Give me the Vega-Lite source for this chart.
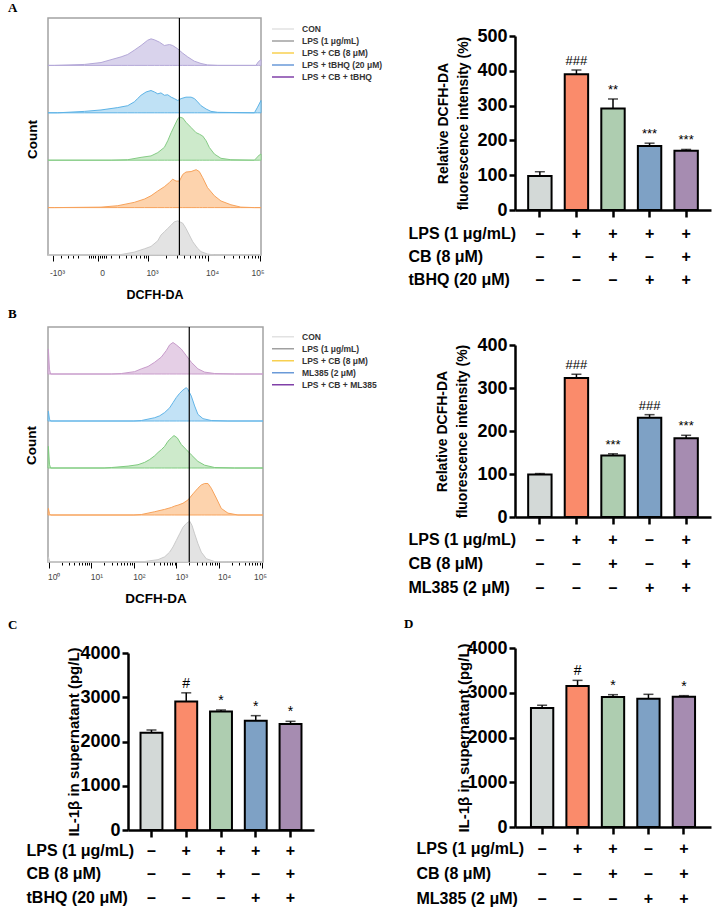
{
  "$schema": "https://vega.github.io/schema/vega-lite/v6.json",
  "background": "white",
  "padding": {"left": 7, "top": 1, "right": 2, "bottom": 2},
  "autosize": {"type": "pad"},
  "columns": 2,
  "bounds": "flush",
  "align": "all",
  "spacing": {"row": 72, "column": 201},
  "resolve": {"scale": {"color": "independent", "fill": "independent", "stroke": "independent"}, "legend": {"color": "independent", "fill": "independent", "stroke": "independent"}},
  "datasets": {
    "histA": [
      {"group":"CON","channel":-5,"count":0},{"group":"CON","channel":308,"count":0},{"group":"CON","channel":340,"count":1},{"group":"CON","channel":402,"count":6},{"group":"CON","channel":450,"count":13},{"group":"CON","channel":481,"count":18},{"group":"CON","channel":513,"count":30},{"group":"CON","channel":528,"count":42},{"group":"CON","channel":544,"count":49},{"group":"CON","channel":560,"count":56},{"group":"CON","channel":576,"count":63},{"group":"CON","channel":591,"count":70},{"group":"CON","channel":607,"count":72},{"group":"CON","channel":631,"count":67},{"group":"CON","channel":646,"count":56},{"group":"CON","channel":662,"count":42},{"group":"CON","channel":678,"count":28},{"group":"CON","channel":701,"count":14},{"group":"CON","channel":717,"count":7},{"group":"CON","channel":748,"count":2},{"group":"CON","channel":780,"count":0},{"group":"CON","channel":1000,"count":0},
      {"group":"LPS","channel":-5,"count":0},{"group":"LPS","channel":25,"count":0},{"group":"LPS","channel":245,"count":1},{"group":"LPS","channel":324,"count":4},{"group":"LPS","channel":402,"count":11},{"group":"LPS","channel":450,"count":18},{"group":"LPS","channel":481,"count":25},{"group":"LPS","channel":513,"count":35},{"group":"LPS","channel":544,"count":44},{"group":"LPS","channel":568,"count":53},{"group":"LPS","channel":583,"count":60},{"group":"LPS","channel":599,"count":56},{"group":"LPS","channel":615,"count":56},{"group":"LPS","channel":631,"count":70},{"group":"LPS","channel":646,"count":75},{"group":"LPS","channel":670,"count":76},{"group":"LPS","channel":694,"count":80},{"group":"LPS","channel":709,"count":76},{"group":"LPS","channel":725,"count":63},{"group":"LPS","channel":748,"count":42},{"group":"LPS","channel":780,"count":25},{"group":"LPS","channel":811,"count":14},{"group":"LPS","channel":858,"count":6},{"group":"LPS","channel":905,"count":1},{"group":"LPS","channel":969,"count":0},{"group":"LPS","channel":1000,"count":0},
      {"group":"LPS + CB","channel":-5,"count":0},{"group":"LPS + CB","channel":293,"count":0},{"group":"LPS + CB","channel":371,"count":1},{"group":"LPS + CB","channel":434,"count":6},{"group":"LPS + CB","channel":481,"count":9},{"group":"LPS + CB","channel":513,"count":16},{"group":"LPS + CB","channel":544,"count":27},{"group":"LPS + CB","channel":560,"count":41},{"group":"LPS + CB","channel":576,"count":58},{"group":"LPS + CB","channel":591,"count":72},{"group":"LPS + CB","channel":607,"count":87},{"group":"LPS + CB","channel":615,"count":91},{"group":"LPS + CB","channel":631,"count":89},{"group":"LPS + CB","channel":646,"count":80},{"group":"LPS + CB","channel":670,"count":69},{"group":"LPS + CB","channel":694,"count":58},{"group":"LPS + CB","channel":709,"count":55},{"group":"LPS + CB","channel":725,"count":51},{"group":"LPS + CB","channel":741,"count":41},{"group":"LPS + CB","channel":756,"count":27},{"group":"LPS + CB","channel":780,"count":13},{"group":"LPS + CB","channel":811,"count":4},{"group":"LPS + CB","channel":858,"count":1},{"group":"LPS + CB","channel":969,"count":0},{"group":"LPS + CB","channel":992,"count":11},{"group":"LPS + CB","channel":1000,"count":13},
      {"group":"LPS + tBHQ","channel":-5,"count":0},{"group":"LPS + tBHQ","channel":41,"count":0},{"group":"LPS + tBHQ","channel":167,"count":3},{"group":"LPS + tBHQ","channel":245,"count":6},{"group":"LPS + tBHQ","channel":324,"count":11},{"group":"LPS + tBHQ","channel":371,"count":15},{"group":"LPS + tBHQ","channel":402,"count":23},{"group":"LPS + tBHQ","channel":418,"count":30},{"group":"LPS + tBHQ","channel":434,"count":37},{"group":"LPS + tBHQ","channel":458,"count":44},{"group":"LPS + tBHQ","channel":481,"count":47},{"group":"LPS + tBHQ","channel":497,"count":44},{"group":"LPS + tBHQ","channel":513,"count":40},{"group":"LPS + tBHQ","channel":528,"count":42},{"group":"LPS + tBHQ","channel":544,"count":37},{"group":"LPS + tBHQ","channel":560,"count":38},{"group":"LPS + tBHQ","channel":576,"count":33},{"group":"LPS + tBHQ","channel":591,"count":30},{"group":"LPS + tBHQ","channel":607,"count":26},{"group":"LPS + tBHQ","channel":623,"count":30},{"group":"LPS + tBHQ","channel":646,"count":33},{"group":"LPS + tBHQ","channel":670,"count":33},{"group":"LPS + tBHQ","channel":686,"count":30},{"group":"LPS + tBHQ","channel":701,"count":23},{"group":"LPS + tBHQ","channel":717,"count":15},{"group":"LPS + tBHQ","channel":741,"count":8},{"group":"LPS + tBHQ","channel":764,"count":3},{"group":"LPS + tBHQ","channel":796,"count":1},{"group":"LPS + tBHQ","channel":969,"count":0},{"group":"LPS + tBHQ","channel":984,"count":12},{"group":"LPS + tBHQ","channel":1000,"count":26},
      {"group":"LPS + CB + tBHQ","channel":-5,"count":0},{"group":"LPS + CB + tBHQ","channel":25,"count":0},{"group":"LPS + CB + tBHQ","channel":167,"count":2},{"group":"LPS + CB + tBHQ","channel":245,"count":6},{"group":"LPS + CB + tBHQ","channel":292,"count":12},{"group":"LPS + CB + tBHQ","channel":340,"count":18},{"group":"LPS + CB + tBHQ","channel":371,"count":23},{"group":"LPS + CB + tBHQ","channel":402,"count":32},{"group":"LPS + CB + tBHQ","channel":434,"count":42},{"group":"LPS + CB + tBHQ","channel":465,"count":53},{"group":"LPS + CB + tBHQ","channel":481,"count":56},{"group":"LPS + CB + tBHQ","channel":497,"count":54},{"group":"LPS + CB + tBHQ","channel":521,"count":49},{"group":"LPS + CB + tBHQ","channel":544,"count":42},{"group":"LPS + CB + tBHQ","channel":568,"count":44},{"group":"LPS + CB + tBHQ","channel":583,"count":42},{"group":"LPS + CB + tBHQ","channel":607,"count":35},{"group":"LPS + CB + tBHQ","channel":630,"count":26},{"group":"LPS + CB + tBHQ","channel":654,"count":18},{"group":"LPS + CB + tBHQ","channel":685,"count":9},{"group":"LPS + CB + tBHQ","channel":717,"count":4},{"group":"LPS + CB + tBHQ","channel":748,"count":1},{"group":"LPS + CB + tBHQ","channel":796,"count":0},{"group":"LPS + CB + tBHQ","channel":976,"count":0},{"group":"LPS + CB + tBHQ","channel":988,"count":8},{"group":"LPS + CB + tBHQ","channel":1000,"count":12}
    ],
    "histB": [
      {"group":"CON","intensity":0.96,"count":0},{"group":"CON","intensity":0.98,"count":11},{"group":"CON","intensity":1.04,"count":2},{"group":"CON","intensity":1.1,"count":0},{"group":"CON","intensity":120,"count":0},{"group":"CON","intensity":179,"count":1},{"group":"CON","intensity":369,"count":5},{"group":"CON","intensity":528,"count":11},{"group":"CON","intensity":692,"count":21},{"group":"CON","intensity":829,"count":32},{"group":"CON","intensity":993,"count":46},{"group":"CON","intensity":1189,"count":60},{"group":"CON","intensity":1423,"count":74},{"group":"CON","intensity":1706,"count":82},{"group":"CON","intensity":2042,"count":87},{"group":"CON","intensity":2316,"count":78},{"group":"CON","intensity":2675,"count":60},{"group":"CON","intensity":3200,"count":39},{"group":"CON","intensity":3837,"count":21},{"group":"CON","intensity":5020,"count":7},{"group":"CON","intensity":7890,"count":1},{"group":"CON","intensity":16200,"count":0},{"group":"CON","intensity":108000,"count":0},
      {"group":"LPS","intensity":0.96,"count":0},{"group":"LPS","intensity":0.98,"count":14},{"group":"LPS","intensity":1.04,"count":3},{"group":"LPS","intensity":1.1,"count":0},{"group":"LPS","intensity":100,"count":0},{"group":"LPS","intensity":150,"count":1},{"group":"LPS","intensity":308,"count":7},{"group":"LPS","intensity":528,"count":12},{"group":"LPS","intensity":758,"count":16},{"group":"LPS","intensity":907,"count":19},{"group":"LPS","intensity":1087,"count":21},{"group":"LPS","intensity":1423,"count":25},{"group":"LPS","intensity":1866,"count":32},{"group":"LPS","intensity":2445,"count":45},{"group":"LPS","intensity":3200,"count":57},{"group":"LPS","intensity":3837,"count":64},{"group":"LPS","intensity":4590,"count":67},{"group":"LPS","intensity":5500,"count":67},{"group":"LPS","intensity":6580,"count":57},{"group":"LPS","intensity":8630,"count":36},{"group":"LPS","intensity":11300,"count":14},{"group":"LPS","intensity":16200,"count":4},{"group":"LPS","intensity":27800,"count":0},{"group":"LPS","intensity":108000,"count":0},
      {"group":"LPS + CB","intensity":0.96,"count":0},{"group":"LPS + CB","intensity":0.98,"count":46},{"group":"LPS + CB","intensity":1.04,"count":8},{"group":"LPS + CB","intensity":1.1,"count":0},{"group":"LPS + CB","intensity":20,"count":0},{"group":"LPS + CB","intensity":30,"count":1},{"group":"LPS + CB","intensity":73,"count":4},{"group":"LPS + CB","intensity":125,"count":7},{"group":"LPS + CB","intensity":179,"count":12},{"group":"LPS + CB","intensity":235,"count":18},{"group":"LPS + CB","intensity":308,"count":26},{"group":"LPS + CB","intensity":369,"count":33},{"group":"LPS + CB","intensity":441,"count":39},{"group":"LPS + CB","intensity":528,"count":46},{"group":"LPS + CB","intensity":633,"count":57},{"group":"LPS + CB","intensity":758,"count":64},{"group":"LPS + CB","intensity":876,"count":69},{"group":"LPS + CB","intensity":1048,"count":64},{"group":"LPS + CB","intensity":1301,"count":50},{"group":"LPS + CB","intensity":1706,"count":39},{"group":"LPS + CB","intensity":2234,"count":28},{"group":"LPS + CB","intensity":3200,"count":14},{"group":"LPS + CB","intensity":4590,"count":6},{"group":"LPS + CB","intensity":7890,"count":1},{"group":"LPS + CB","intensity":23200,"count":0},{"group":"LPS + CB","intensity":108000,"count":0},
      {"group":"ML385","intensity":0.96,"count":0},{"group":"ML385","intensity":0.98,"count":21},{"group":"ML385","intensity":1.04,"count":4},{"group":"ML385","intensity":1.1,"count":0},{"group":"ML385","intensity":100,"count":0},{"group":"ML385","intensity":150,"count":1},{"group":"ML385","intensity":308,"count":7},{"group":"ML385","intensity":403,"count":11},{"group":"ML385","intensity":528,"count":18},{"group":"ML385","intensity":692,"count":28},{"group":"ML385","intensity":829,"count":39},{"group":"ML385","intensity":993,"count":50},{"group":"ML385","intensity":1189,"count":59},{"group":"ML385","intensity":1423,"count":66},{"group":"ML385","intensity":1706,"count":71},{"group":"ML385","intensity":1866,"count":67},{"group":"ML385","intensity":2234,"count":53},{"group":"ML385","intensity":2675,"count":32},{"group":"ML385","intensity":3200,"count":14},{"group":"ML385","intensity":4200,"count":5},{"group":"ML385","intensity":6580,"count":1},{"group":"ML385","intensity":16200,"count":0},{"group":"ML385","intensity":108000,"count":0},
      {"group":"LPS + CB + ML385","intensity":0.96,"count":0},{"group":"LPS + CB + ML385","intensity":0.98,"count":53},{"group":"LPS + CB + ML385","intensity":1.04,"count":10},{"group":"LPS + CB + ML385","intensity":1.1,"count":0},{"group":"LPS + CB + ML385","intensity":30,"count":0},{"group":"LPS + CB + ML385","intensity":51,"count":1},{"group":"LPS + CB + ML385","intensity":104,"count":5},{"group":"LPS + CB + ML385","intensity":150,"count":11},{"group":"LPS + CB + ML385","intensity":215,"count":16},{"group":"LPS + CB + ML385","intensity":308,"count":25},{"group":"LPS + CB + ML385","intensity":441,"count":36},{"group":"LPS + CB + ML385","intensity":578,"count":50},{"group":"LPS + CB + ML385","intensity":692,"count":62},{"group":"LPS + CB + ML385","intensity":829,"count":67},{"group":"LPS + CB + ML385","intensity":993,"count":62},{"group":"LPS + CB + ML385","intensity":1301,"count":53},{"group":"LPS + CB + ML385","intensity":1706,"count":39},{"group":"LPS + CB + ML385","intensity":2234,"count":25},{"group":"LPS + CB + ML385","intensity":3200,"count":11},{"group":"LPS + CB + ML385","intensity":4590,"count":4},{"group":"LPS + CB + ML385","intensity":7890,"count":1},{"group":"LPS + CB + ML385","intensity":23200,"count":0},{"group":"LPS + CB + ML385","intensity":108000,"count":0}
    ],
    "barA": [
      {"group":"CON","value":98,"upper":110,"sig":""},
      {"group":"LPS","value":390,"upper":402,"sig":"###"},
      {"group":"LPS + CB","value":292,"upper":319,"sig":"**"},
      {"group":"LPS + tBHQ","value":184,"upper":192,"sig":"***"},
      {"group":"LPS + CB + tBHQ","value":170,"upper":174,"sig":"***"}
    ],
    "barB": [
      {"group":"CON","value":99,"upper":101,"sig":""},
      {"group":"LPS","value":323,"upper":332,"sig":"###"},
      {"group":"LPS + CB","value":143,"upper":147,"sig":"***"},
      {"group":"ML385","value":231,"upper":238,"sig":"###"},
      {"group":"LPS + CB + ML385","value":183,"upper":190,"sig":"***"}
    ],
    "barC": [
      {"group":"CON","value":2200,"upper":2260,"sig":""},
      {"group":"LPS","value":2905,"upper":3100,"sig":"#"},
      {"group":"LPS + CB","value":2680,"upper":2712,"sig":"*"},
      {"group":"LPS + tBHQ","value":2470,"upper":2584,"sig":"*"},
      {"group":"LPS + CB + tBHQ","value":2395,"upper":2456,"sig":"*"}
    ],
    "barD": [
      {"group":"CON","value":2660,"upper":2720,"sig":""},
      {"group":"LPS","value":3150,"upper":3277,"sig":"#"},
      {"group":"LPS + CB","value":2905,"upper":2957,"sig":"*"},
      {"group":"ML385","value":2868,"upper":2965,"sig":""},
      {"group":"LPS + CB + ML385","value":2912,"upper":2935,"sig":"*"}
    ]
  },
  "concat": [
    {
      "width": 213, "height": 237,
      "view": {"stroke": "#a3a3a3", "strokeWidth": 1.5},
      "title": {"text": "A", "dx": -40, "offset": 2},
      "data": {"name": "histA"},
      "resolve": {"scale": {"y": "independent"}, "axis": {"y": "independent", "x": "independent"}},
      "layer": [
        {
          "transform": [{"filter": "datum.group == 'CON'"}],
          "mark": {"type": "area", "fill": "#e3e3e3", "stroke": "#cacaca", "strokeWidth": 1},
          "encoding": {
            "x": {"field": "channel", "type": "quantitative", "scale": {"domain": [-5, 1000], "nice": false, "zero": false},
              "axis": {"title": "DCFH-DA", "titleFontSize": 12.5, "titleFontWeight": "bold", "titleY": 33, "titleBaseline": "top", "domain": false,
                "values": [19,57,90,113,137,189,198,208,217,231,241,250,259,269,292,330,363,387,410,429,448,458,467,552,602,637,665,687,706,723,737,750,824,867,898,921,941,957,972,984,995],
                "labelExpr": "datum.value == 19 ? '-10³' : datum.value == 231 ? '0' : datum.value == 467 ? '10³' : datum.value == 750 ? '10⁴' : datum.value == 995 ? '10⁵' : ''",
                "tickColor": "black", "tickWidth": 1,
                "tickSize": {"condition": {"test": "indexof([19,231,467,750,995], datum.value) >= 0", "value": 6}, "value": 3},
                "labelAlign": {"condition": {"test": "datum.value == 995", "value": "right"}, "value": "center"},
                "labelFontSize": 8.5, "labelColor": "#444", "labelPadding": 7, "labelOffset": 4, "labelOverlap": false, "labelFlush": false, "labelBound": false}},
            "y": {"field": "count", "type": "quantitative", "stack": null, "scale": {"domain": [0, 500], "nice": false},
              "axis": {"title": "Count", "labels": false, "ticks": false, "domain": false, "titleFontSize": 13.5, "titleFontWeight": "bold", "titleX": -16, "titleY": 121, "titleBaseline": "middle", "titleAlign": "center", "titleAngle": -90}}
          }
        },
        {
          "transform": [{"filter": "datum.group == 'LPS'"}],
          "mark": {"type": "area", "fill": "#fdd3ad", "stroke": "#f7a35c", "strokeWidth": 1},
          "encoding": {
            "x": {"field": "channel", "type": "quantitative", "axis": null},
            "y": {"field": "count", "type": "quantitative", "stack": null, "scale": {"domain": [-100, 400], "nice": false, "zero": false}, "axis": null}
          }
        },
        {
          "transform": [{"filter": "datum.group == 'LPS + CB'"}],
          "mark": {"type": "area", "fill": "#cdeacb", "stroke": "#86cc86", "strokeWidth": 1},
          "encoding": {
            "x": {"field": "channel", "type": "quantitative", "axis": null},
            "y": {"field": "count", "type": "quantitative", "stack": null, "scale": {"domain": [-200, 300], "nice": false, "zero": false}, "axis": null}
          }
        },
        {
          "transform": [{"filter": "datum.group == 'LPS + tBHQ'"}],
          "mark": {"type": "area", "fill": "#bfe1f5", "stroke": "#5db3e6", "strokeWidth": 1},
          "encoding": {
            "x": {"field": "channel", "type": "quantitative", "axis": null},
            "y": {"field": "count", "type": "quantitative", "stack": null, "scale": {"domain": [-300, 200], "nice": false, "zero": false}, "axis": null}
          }
        },
        {
          "transform": [{"filter": "datum.group == 'LPS + CB + tBHQ'"}],
          "mark": {"type": "area", "fill": "#d9d3ec", "stroke": "#b4a8d8", "strokeWidth": 1},
          "encoding": {
            "x": {"field": "channel", "type": "quantitative", "axis": null},
            "y": {"field": "count", "type": "quantitative", "stack": null, "scale": {"domain": [-400, 100], "nice": false, "zero": false}, "axis": null}
          }
        },
        {
          "mark": {"type": "line", "opacity": 0},
          "encoding": {
            "x": {"field": "channel", "type": "quantitative", "axis": null},
            "y": {"field": "count", "type": "quantitative", "axis": null},
            "color": {"field": "group", "type": "nominal",
              "scale": {"domain": ["CON", "LPS", "LPS + CB", "LPS + tBHQ", "LPS + CB + tBHQ"], "range": ["#e2e2e2", "#a0a0a0", "#f8d050", "#6a9ad8", "#8040a8"]},
              "legend": {"orient": "none", "legendX": 223, "legendY": 5, "title": null, "symbolType": "stroke", "symbolSize": 484, "symbolStrokeWidth": 1.5, "symbolOpacity": 1, "labelFontSize": 8.5, "labelFontWeight": "bold", "labelColor": "#333", "labelOffset": 7, "clipHeight": 12, "rowPadding": 0, "padding": 0,
                "labelExpr": "datum.value == 'LPS' ? 'LPS (1 μg/mL)' : datum.value == 'LPS + CB' ? 'LPS + CB (8 μM)' : datum.value == 'LPS + tBHQ' ? 'LPS + tBHQ (20 μM)' : datum.value"}}
          }
        },
        {
          "data": {"values": [{}]},
          "mark": {"type": "rule", "color": "black", "strokeWidth": 1.2},
          "encoding": {"x": {"datum": 615, "type": "quantitative", "axis": null}}
        }
      ]
    },
    {
      "width": 196, "height": 192,
      "data": {"name": "barA"},
      "resolve": {"axis": {"y": "independent"}},
      "encoding": {
        "x": {"field": "group", "type": "nominal", "sort": null, "scale": {"paddingInner": 0.36, "paddingOuter": 0.36},
          "axis": {"title": ["LPS (1 μg/mL)", "CB (8 μM)", "tBHQ (20 μM)"], "titleAlign": "left", "titleX": -107, "titleY": 15, "titleBaseline": "top", "titleFontSize": 16, "titleFontWeight": "bold", "titleLineHeight": 23.3, "titleAngle": 0,
            "labelExpr": "datum.value == 'CON' ? ['–','–','–'] : datum.value == 'LPS' ? ['+','–','–'] : datum.value == 'LPS + CB' ? ['+','+','–'] : datum.value == 'LPS + tBHQ' ? ['+','–','+'] : ['+','+','+']",
            "labelAngle": 0, "labelFontSize": 16, "labelFontWeight": "bold", "labelLineHeight": 23.3, "labelPadding": 8, "labelBaseline": "top", "labelOverlap": false, "labelBound": false,
            "tickSize": 7, "tickWidth": 2.5, "tickColor": "black", "domainColor": "black", "domainWidth": 2.5}}
      },
      "layer": [
        {
          "mark": {"type": "bar", "stroke": "black", "strokeWidth": 2},
          "encoding": {
            "y": {"field": "value", "type": "quantitative", "scale": {"domain": [0, 500], "range": [192, 18], "nice": false},
              "axis": {"title": ["Relative DCFH-DA", "fluorescence intensity (%)"], "titleFontSize": 14, "titleFontWeight": "bold", "titleLineHeight": 20, "titleX": -72, "titleY": 105, "titleBaseline": "middle", "titleAlign": "center", "titleAngle": -90,
                "values": [0, 100, 200, 300, 400, 500], "format": "d", "labelOverlap": false, "labelFontSize": 18, "labelFontWeight": "bold", "labelPadding": 2, "tickSize": 6, "tickWidth": 2.5, "tickColor": "black", "domainColor": "black", "domainWidth": 2.5}},
            "fill": {"field": "group", "type": "nominal", "legend": null, "scale": {"domain": ["CON", "LPS", "LPS + CB", "LPS + tBHQ", "LPS + CB + tBHQ"], "range": ["#d3d9d7", "#fa8b6b", "#aecdb0", "#7ea1c5", "#a68cb1"]}}
          }
        },
        {"mark": {"type": "rule", "color": "black", "strokeWidth": 1.5}, "encoding": {"y": {"field": "value", "type": "quantitative", "axis": null}, "y2": {"field": "upper"}}},
        {"mark": {"type": "tick", "color": "black", "thickness": 1.5, "size": 10}, "encoding": {"y": {"field": "upper", "type": "quantitative", "axis": null}}},
        {"mark": {"type": "text", "baseline": "bottom", "dy": -2, "fontSize": 13}, "encoding": {"y": {"field": "upper", "type": "quantitative", "axis": null}, "text": {"field": "sig"}}}
      ]
    },
    {
      "width": 215, "height": 235,
      "view": {"stroke": "#a3a3a3", "strokeWidth": 1.5},
      "title": {"text": "B", "dx": -40, "offset": 5},
      "data": {"name": "histB"},
      "resolve": {"scale": {"y": "independent"}, "axis": {"y": "independent", "x": "independent"}},
      "layer": [
        {
          "transform": [{"filter": "datum.group == 'CON'"}],
          "mark": {"type": "area", "fill": "#e3e3e3", "stroke": "#cacaca", "strokeWidth": 1},
          "encoding": {
            "x": {"field": "intensity", "type": "quantitative", "scale": {"type": "log", "domain": [0.96, 108000], "nice": false},
              "axis": {"title": "DCFH-DA", "titleFontSize": 13.5, "titleFontWeight": "bold", "titleY": 29, "titleBaseline": "top", "domain": false,
                "values": [1,2,3,4,5,6,7,8,9,10,20,30,40,50,60,70,80,90,100,200,300,400,500,600,700,800,900,1000,2000,3000,4000,5000,6000,7000,8000,9000,10000,20000,30000,40000,50000,60000,70000,80000,90000,100000],
                "labelExpr": "indexof([1,10,100,1000,10000,100000], datum.value) >= 0 ? '10' + ['⁰','¹','²','³','⁴','⁵'][round(log(datum.value)/LN10)] : ''",
                "tickColor": "black", "tickWidth": 1,
                "tickSize": {"condition": {"test": "indexof([1,10,100,1000,10000,100000], datum.value) >= 0", "value": 6}, "value": 3},
                "labelAlign": {"condition": {"test": "datum.value == 100000", "value": "right"}, "value": "center"},
                "labelFontSize": 8.5, "labelColor": "#444", "labelPadding": 4, "labelOffset": 5, "labelOverlap": false, "labelFlush": false, "labelBound": false}},
            "y": {"field": "count", "type": "quantitative", "stack": null, "scale": {"domain": [0, 500], "nice": false},
              "axis": {"title": "Count", "labels": false, "ticks": false, "domain": false, "titleFontSize": 13.5, "titleFontWeight": "bold", "titleX": -17, "titleY": 118, "titleBaseline": "middle", "titleAlign": "center", "titleAngle": -90}}
          }
        },
        {
          "transform": [{"filter": "datum.group == 'LPS'"}],
          "mark": {"type": "area", "fill": "#fdd3ad", "stroke": "#f7a35c", "strokeWidth": 1},
          "encoding": {
            "x": {"field": "intensity", "type": "quantitative", "axis": null},
            "y": {"field": "count", "type": "quantitative", "stack": null, "scale": {"domain": [-100, 400], "nice": false, "zero": false}, "axis": null}
          }
        },
        {
          "transform": [{"filter": "datum.group == 'LPS + CB'"}],
          "mark": {"type": "area", "fill": "#cdeacb", "stroke": "#7fcb7f", "strokeWidth": 1},
          "encoding": {
            "x": {"field": "intensity", "type": "quantitative", "axis": null},
            "y": {"field": "count", "type": "quantitative", "stack": null, "scale": {"domain": [-200, 300], "nice": false, "zero": false}, "axis": null}
          }
        },
        {
          "transform": [{"filter": "datum.group == 'ML385'"}],
          "mark": {"type": "area", "fill": "#c2e2f6", "stroke": "#62b5e8", "strokeWidth": 1},
          "encoding": {
            "x": {"field": "intensity", "type": "quantitative", "axis": null},
            "y": {"field": "count", "type": "quantitative", "stack": null, "scale": {"domain": [-300, 200], "nice": false, "zero": false}, "axis": null}
          }
        },
        {
          "transform": [{"filter": "datum.group == 'LPS + CB + ML385'"}],
          "mark": {"type": "area", "fill": "#e5cfe6", "stroke": "#c89ccb", "strokeWidth": 1},
          "encoding": {
            "x": {"field": "intensity", "type": "quantitative", "axis": null},
            "y": {"field": "count", "type": "quantitative", "stack": null, "scale": {"domain": [-400, 100], "nice": false, "zero": false}, "axis": null}
          }
        },
        {
          "mark": {"type": "line", "opacity": 0},
          "encoding": {
            "x": {"field": "intensity", "type": "quantitative", "axis": null},
            "y": {"field": "count", "type": "quantitative", "axis": null},
            "color": {"field": "group", "type": "nominal",
              "scale": {"domain": ["CON", "LPS", "LPS + CB", "ML385", "LPS + CB + ML385"], "range": ["#e2e2e2", "#a0a0a0", "#f8d050", "#6a9ad8", "#8040a8"]},
              "legend": {"orient": "none", "legendX": 223, "legendY": 4, "title": null, "symbolType": "stroke", "symbolSize": 484, "symbolStrokeWidth": 1.5, "symbolOpacity": 1, "labelFontSize": 8.5, "labelFontWeight": "bold", "labelColor": "#333", "labelOffset": 7, "clipHeight": 11.5, "rowPadding": 0, "padding": 0,
                "labelExpr": "datum.value == 'LPS' ? 'LPS (1 μg/mL)' : datum.value == 'LPS + CB' ? 'LPS + CB (8 μM)' : datum.value == 'ML385' ? 'ML385 (2 μM)' : datum.value"}}
          }
        },
        {
          "data": {"values": [{}]},
          "mark": {"type": "rule", "color": "black", "strokeWidth": 1.2},
          "encoding": {"x": {"datum": 2000, "type": "quantitative", "axis": null}}
        }
      ]
    },
    {
      "width": 196, "height": 190,
      "data": {"name": "barB"},
      "resolve": {"axis": {"y": "independent"}},
      "encoding": {
        "x": {"field": "group", "type": "nominal", "sort": null, "scale": {"paddingInner": 0.36, "paddingOuter": 0.36},
          "axis": {"title": ["LPS (1 μg/mL)", "CB (8 μM)", "ML385 (2 μM)"], "titleAlign": "left", "titleX": -107, "titleY": 14, "titleBaseline": "top", "titleFontSize": 16, "titleFontWeight": "bold", "titleLineHeight": 24, "titleAngle": 0,
            "labelExpr": "datum.value == 'CON' ? ['–','–','–'] : datum.value == 'LPS' ? ['+','–','–'] : datum.value == 'LPS + CB' ? ['+','+','–'] : datum.value == 'ML385' ? ['–','–','+'] : ['+','+','+']",
            "labelAngle": 0, "labelFontSize": 16, "labelFontWeight": "bold", "labelLineHeight": 24, "labelPadding": 7, "labelBaseline": "top", "labelOverlap": false, "labelBound": false,
            "tickSize": 7, "tickWidth": 2.5, "tickColor": "black", "domainColor": "black", "domainWidth": 2.5}}
      },
      "layer": [
        {
          "mark": {"type": "bar", "stroke": "black", "strokeWidth": 2},
          "encoding": {
            "y": {"field": "value", "type": "quantitative", "scale": {"domain": [0, 400], "range": [190, 18], "nice": false},
              "axis": {"title": ["Relative DCFH-DA", "fluorescence intensity (%)"], "titleFontSize": 14, "titleFontWeight": "bold", "titleLineHeight": 20, "titleX": -73, "titleY": 104, "titleBaseline": "middle", "titleAlign": "center", "titleAngle": -90,
                "values": [0, 100, 200, 300, 400], "format": "d", "labelOverlap": false, "labelFontSize": 18, "labelFontWeight": "bold", "labelPadding": 2, "tickSize": 6, "tickWidth": 2.5, "tickColor": "black", "domainColor": "black", "domainWidth": 2.5}},
            "fill": {"field": "group", "type": "nominal", "legend": null, "scale": {"domain": ["CON", "LPS", "LPS + CB", "ML385", "LPS + CB + ML385"], "range": ["#d3d9d7", "#fa8b6b", "#aecdb0", "#7ea1c5", "#a68cb1"]}}
          }
        },
        {"mark": {"type": "rule", "color": "black", "strokeWidth": 1.5}, "encoding": {"y": {"field": "value", "type": "quantitative", "axis": null}, "y2": {"field": "upper"}}},
        {"mark": {"type": "tick", "color": "black", "thickness": 1.5, "size": 10}, "encoding": {"y": {"field": "upper", "type": "quantitative", "axis": null}}},
        {"mark": {"type": "text", "baseline": "bottom", "dy": -2, "fontSize": 13}, "encoding": {"y": {"field": "upper", "type": "quantitative", "axis": null}, "text": {"field": "sig"}}}
      ]
    },
    {
      "width": 266, "height": 194,
      "title": {"text": "C", "dx": -40, "offset": 4},
      "data": {"name": "barC"},
      "resolve": {"axis": {"y": "independent"}},
      "encoding": {
        "x": {"field": "group", "type": "nominal", "sort": null, "scale": {"range": [80, 266], "paddingInner": 0.37, "paddingOuter": 0.36},
          "axis": {"title": ["LPS (1 μg/mL)", "CB (8 μM)", "tBHQ (20 μM)"], "titleAlign": "left", "titleX": -22, "titleY": 12, "titleBaseline": "top", "titleFontSize": 16, "titleFontWeight": "bold", "titleLineHeight": 23.5, "titleAngle": 0,
            "labelExpr": "datum.value == 'CON' ? ['–','–','–'] : datum.value == 'LPS' ? ['+','–','–'] : datum.value == 'LPS + CB' ? ['+','+','–'] : datum.value == 'LPS + tBHQ' ? ['+','–','+'] : ['+','+','+']",
            "labelAngle": 0, "labelFontSize": 16, "labelFontWeight": "bold", "labelLineHeight": 23.5, "labelPadding": 5, "labelBaseline": "top", "labelOverlap": false, "labelBound": false,
            "tickSize": 7, "tickWidth": 2.5, "tickColor": "black", "domainColor": "black", "domainWidth": 2.5}}
      },
      "layer": [
        {
          "mark": {"type": "bar", "stroke": "black", "strokeWidth": 2},
          "encoding": {
            "y": {"field": "value", "type": "quantitative", "scale": {"domain": [0, 4000], "range": [194, 17], "nice": false},
              "axis": {"title": "IL-1β in supernatant (pg/L)", "offset": -80, "titleFontSize": 15, "titleFontWeight": "bold", "titleX": -55, "titleY": 105.5, "titleBaseline": "middle", "titleAlign": "center", "titleAngle": -90,
                "values": [0, 1000, 2000, 3000, 4000], "format": "d", "labelOverlap": false, "labelFontSize": 18, "labelFontWeight": "bold", "labelPadding": 2, "tickSize": 6, "tickWidth": 2.5, "tickColor": "black", "domainColor": "black", "domainWidth": 2.5}},
            "fill": {"field": "group", "type": "nominal", "legend": null, "scale": {"domain": ["CON", "LPS", "LPS + CB", "LPS + tBHQ", "LPS + CB + tBHQ"], "range": ["#d3d9d7", "#fa8b6b", "#aecdb0", "#7ea1c5", "#a68cb1"]}}
          }
        },
        {"mark": {"type": "rule", "color": "black", "strokeWidth": 1.5}, "encoding": {"y": {"field": "value", "type": "quantitative", "axis": null}, "y2": {"field": "upper"}}},
        {"mark": {"type": "tick", "color": "black", "thickness": 1.5, "size": 10}, "encoding": {"y": {"field": "upper", "type": "quantitative", "axis": null}}},
        {"mark": {"type": "text", "baseline": "bottom", "dy": -2, "fontSize": 14}, "encoding": {"y": {"field": "upper", "type": "quantitative", "axis": null}, "text": {"field": "sig"}}}
      ]
    },
    {
      "width": 196, "height": 191,
      "title": {"text": "D", "dx": -111, "offset": 5},
      "data": {"name": "barD"},
      "resolve": {"axis": {"y": "independent"}},
      "encoding": {
        "x": {"field": "group", "type": "nominal", "sort": null, "scale": {"paddingInner": 0.37, "paddingOuter": 0.45},
          "axis": {"title": ["LPS (1 μg/mL)", "CB (8 μM)", "ML385 (2 μM)"], "titleAlign": "left", "titleX": -99, "titleY": 13, "titleBaseline": "top", "titleFontSize": 16, "titleFontWeight": "bold", "titleLineHeight": 25, "titleAngle": 0,
            "labelExpr": "datum.value == 'CON' ? ['–','–','–'] : datum.value == 'LPS' ? ['+','–','–'] : datum.value == 'LPS + CB' ? ['+','+','–'] : datum.value == 'ML385' ? ['–','–','+'] : ['+','+','+']",
            "labelAngle": 0, "labelFontSize": 16, "labelFontWeight": "bold", "labelLineHeight": 25, "labelPadding": 6, "labelBaseline": "top", "labelOverlap": false, "labelBound": false,
            "tickSize": 7, "tickWidth": 2.5, "tickColor": "black", "domainColor": "black", "domainWidth": 2.5}}
      },
      "layer": [
        {
          "mark": {"type": "bar", "stroke": "black", "strokeWidth": 2},
          "encoding": {
            "y": {"field": "value", "type": "quantitative", "scale": {"domain": [0, 4000], "range": [191, 12], "nice": false},
              "axis": {"title": "IL-1β in supernatant (pg/L)", "titleFontSize": 15, "titleFontWeight": "bold", "titleX": -52, "titleY": 101.5, "titleBaseline": "middle", "titleAlign": "center", "titleAngle": -90,
                "values": [0, 1000, 2000, 3000, 4000], "format": "d", "labelOverlap": false, "labelFontSize": 18, "labelFontWeight": "bold", "labelPadding": 2, "tickSize": 6, "tickWidth": 2.5, "tickColor": "black", "domainColor": "black", "domainWidth": 2.5}},
            "fill": {"field": "group", "type": "nominal", "legend": null, "scale": {"domain": ["CON", "LPS", "LPS + CB", "ML385", "LPS + CB + ML385"], "range": ["#d3d9d7", "#fa8b6b", "#aecdb0", "#7ea1c5", "#a68cb1"]}}
          }
        },
        {"mark": {"type": "rule", "color": "black", "strokeWidth": 1.5}, "encoding": {"y": {"field": "value", "type": "quantitative", "axis": null}, "y2": {"field": "upper"}}},
        {"mark": {"type": "tick", "color": "black", "thickness": 1.5, "size": 10}, "encoding": {"y": {"field": "upper", "type": "quantitative", "axis": null}}},
        {"mark": {"type": "text", "baseline": "bottom", "dy": -2, "fontSize": 14}, "encoding": {"y": {"field": "upper", "type": "quantitative", "axis": null}, "text": {"field": "sig"}}}
      ]
    }
  ],
  "config": {
    "font": "Liberation Sans",
    "view": {"stroke": null},
    "axis": {"grid": false, "labelColor": "black", "titleColor": "black"},
    "title": {"font": "Liberation Serif", "fontSize": 13, "fontWeight": "bold", "anchor": "start", "frame": "group", "color": "black"}
  }
}
